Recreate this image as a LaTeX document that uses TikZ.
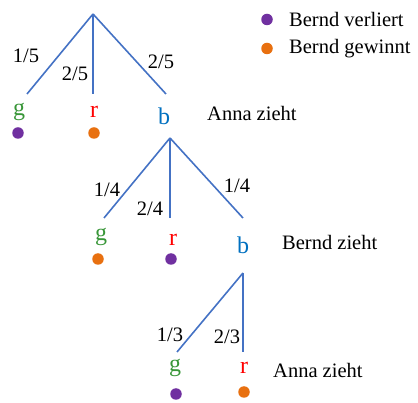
\documentclass[tikz,border=0pt]{standalone}
\usepackage{fontspec}
\setmainfont{Liberation Serif}
\definecolor{branchc}{RGB}{68,114,196}
\definecolor{gc}{RGB}{56,150,56}
\definecolor{rc}{RGB}{255,0,0}
\definecolor{bc}{RGB}{0,112,192}
\definecolor{lose}{RGB}{112,48,160}
\definecolor{win}{RGB}{232,112,16}
\begin{document}
\begin{tikzpicture}[x=1pt,y=-1pt,
  branch/.style={draw=branchc, line width=1.6pt},
  lab/.style={font=\fontsize{20.5}{22}\selectfont, inner sep=0pt},
  letter/.style={font=\fontsize{24}{26}\selectfont, inner sep=0pt},
  txt/.style={font=\fontsize{20.5}{22}\selectfont, inner sep=0pt, anchor=west},
  dotL/.style={circle, fill=lose, minimum size=11.5pt, inner sep=0pt},
  dotW/.style={circle, fill=win, minimum size=11.5pt, inner sep=0pt}]
\useasboundingbox (0,0) rectangle (418,403);
% level 1
\coordinate (t1) at (93,14);
\coordinate (e1g) at (27,94);
\coordinate (e1r) at (93,94);
\coordinate (e1b) at (166,94);
\draw[branch] (t1) -- (e1g);
\draw[branch] (t1) -- (e1r);
\draw[branch] (t1) -- (e1b);
\node[lab] (p1g) at (26,56) {1/5};
\node[lab] (p1r) at (75,74) {2/5};
\node[lab] (p1b) at (161,62) {2/5};
\node[letter, text=gc] (g1) at (19,112) {g};
\node[letter, text=rc] (r1) at (94,112) {r};
\node[letter, text=bc] (b1) at (164,116) {b};
\node[dotL] (dg1) at (18,133) {};
\node[dotW] (dr1) at (94,133) {};
\node[txt] (a1) at (207,113) {Anna zieht};
% legend
\node[dotL] (leg1) at (267,19.5) {};
\node[dotW] (leg2) at (267,48.5) {};
\node[txt] (legt1) at (289,19) {Bernd verliert};
\node[txt] (legt2) at (289,49) {Bernd gewinnt};
% level 2
\coordinate (t2) at (170,138);
\coordinate (e2g) at (104,218);
\coordinate (e2r) at (170,218);
\coordinate (e2b) at (243,218);
\draw[branch] (t2) -- (e2g);
\draw[branch] (t2) -- (e2r);
\draw[branch] (t2) -- (e2b);
\node[lab] (p2g) at (107,190) {1/4};
\node[lab] (p2r) at (150,209) {2/4};
\node[lab] (p2b) at (237,186) {1/4};
\node[letter, text=gc] (g2) at (101,237) {g};
\node[letter, text=rc] (r2) at (173,240) {r};
\node[letter, text=bc] (b2) at (243,245) {b};
\node[dotW] (dg2) at (98,259) {};
\node[dotL] (dr2) at (171,259) {};
\node[txt] (a2) at (282,242) {Bernd zieht};
% level 3
\coordinate (t3) at (243,273);
\coordinate (e3g) at (177,352);
\coordinate (e3r) at (243,352);
\draw[branch] (t3) -- (e3g);
\draw[branch] (t3) -- (e3r);
\node[lab] (p3g) at (170,335) {1/3};
\node[lab] (p3r) at (227,337) {2/3};
\node[letter, text=gc] (g3) at (175,368) {g};
\node[letter, text=rc] (r3) at (244,368) {r};
\node[dotL] (dg3) at (176,394) {};
\node[dotW] (dr3) at (244,392) {};
\node[txt] (a3) at (273,370) {Anna zieht};
\end{tikzpicture}
\end{document}
